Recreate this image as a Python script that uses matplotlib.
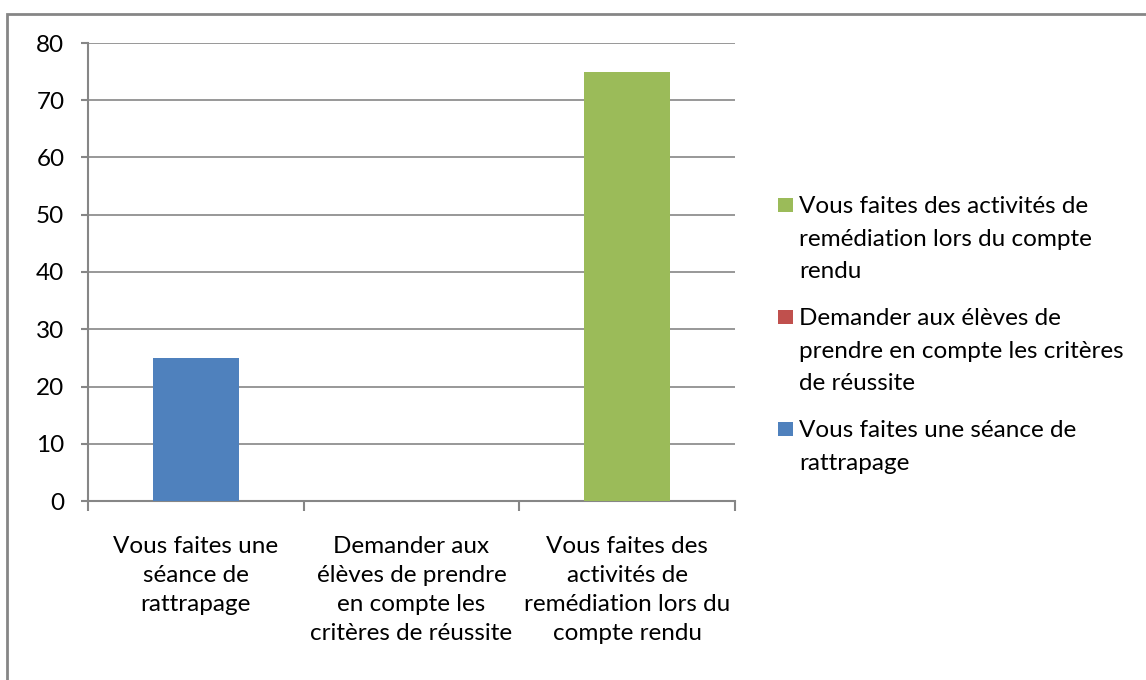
import matplotlib.pyplot as plt
from matplotlib.patches import Rectangle
import numpy as np

plt.rcParams['font.family'] = ['Lato', 'DejaVu Sans']

categories = [
    "Vous faites une\nséance de\nrattrapage",
    "Demander aux\nélèves de prendre\nen compte les\ncritères de réussite",
    "Vous faites des\nactivités de\nremédiation lors du\ncompte rendu",
]
series_names = [
    "Vous faites une séance de\nrattrapage",
    "Demander aux élèves de\nprendre en compte les critères\nde réussite",
    "Vous faites des activités de\nremédiation lors du compte\nrendu",
]
series_values = [
    [25, 0, 0],
    [0, 0, 0],
    [0, 0, 75],
]
colors = ["#4F81BD", "#C0504D", "#9BBB59"]
yticks = [0, 10, 20, 30, 40, 50, 60, 70, 80]

W, H = 1146, 680
FS = 17.5
fig = plt.figure(figsize=(W / 100, H / 100), dpi=100)
fig.patches.append(Rectangle((7 / W, -0.1), 1.2, 1 - 14 / H + 0.1, transform=fig.transFigure,
                             fill=False, edgecolor="#868686", linewidth=2))

ax = fig.add_axes([88 / W, 1 - 501 / H, (735 - 88) / W, (501 - 43) / H])
x = np.arange(len(categories))
bottom = np.zeros(len(categories))
for vals, c in zip(series_values, colors):
    ax.bar(x, vals, width=0.4, bottom=bottom, color=c, zorder=3)
    bottom += np.array(vals)

ax.set_xlim(-0.5, len(categories) - 0.5)
ax.set_ylim(0, 80)
ax.set_yticks(yticks)
ax.grid(axis="y", color="#868686", linewidth=1.2, zorder=0)
for s in ["top", "right"]:
    ax.spines[s].set_visible(False)
for s in ["left", "bottom"]:
    ax.spines[s].set_color("#868686")
    ax.spines[s].set_linewidth(1.5)

ax.set_xticks(x)
ax.set_xticklabels(categories, fontsize=FS, linespacing=1.48)
ax.set_xticks(np.arange(len(categories) + 1) - 0.5, minor=True)
ax.tick_params(axis="x", which="major", length=0, pad=25)
ax.tick_params(axis="x", which="minor", length=7, width=1.5, color="#868686")
ax.tick_params(axis="y", length=5, width=1.5, color="#868686", labelsize=FS, pad=12)

# legend drawn by hand: square beside the first line, reverse series order
line_gap = 32.5
entry_base = [213, 325, 437]
for (name, c), y0 in zip(list(zip(series_names, colors))[::-1], entry_base):
    fig.patches.append(Rectangle((778 / W, 1 - (y0 - 1) / H), 15 / W, 14 / H,
                                 transform=fig.transFigure, facecolor=c, edgecolor="none"))
    for k, line in enumerate(name.split("\n")):
        fig.text(799 / W, 1 - (y0 + k * line_gap) / H, line, fontsize=FS,
                 ha="left", va="baseline")

fig.savefig("out.png", dpi=100)
